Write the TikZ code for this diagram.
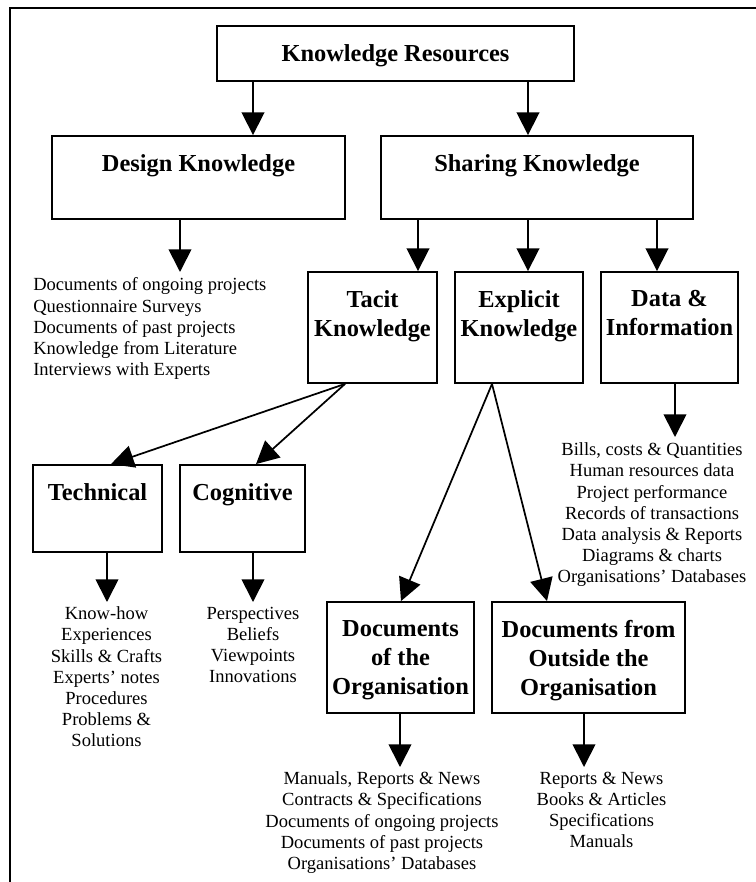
\documentclass[tikz,border=0pt]{standalone}
\usepackage{fontspec}
\setmainfont{Liberation Serif}
\usetikzlibrary{arrows.meta,calc}
\tikzset{
  box/.style={draw, line width=1.4pt, inner sep=0pt},
  head/.style={font=\fontsize{18.3}{21.75}\selectfont\bfseries, align=center, inner sep=0pt, anchor=north},
  items/.style={font=\fontsize{13.9}{15.9}\selectfont, inner sep=0pt, anchor=north, align=center},
  arr/.style={line width=1.3pt, -{Triangle[length=17pt,width=17pt]}},
  frame/.style={line width=1pt}
}
\begin{document}
\begin{tikzpicture}[x=0.75pt, y=-0.75pt]
\useasboundingbox (0,0) rectangle (756,882);
% frame lines
\draw[frame] (756,8) -- (10,8) -- (10,882);

% boxes
\node[box, minimum width=267.75pt, minimum height=41.25pt] (kr)   at (395.5,53.5) {};
\node[box, minimum width=219.75pt, minimum height=62.25pt] (dk)   at (198.5,177.5) {};
\node[box, minimum width=234pt,    minimum height=62.25pt] (sk)   at (537,177.5) {};
\node[box, minimum width=96.75pt,  minimum height=83.25pt] (tac)  at (372.5,327.5) {};
\node[box, minimum width=96pt,     minimum height=83.25pt] (exk)  at (519,327.5) {};
\node[box, minimum width=102.75pt, minimum height=83.25pt] (dat)  at (669.5,327.5) {};
\node[box, minimum width=96.75pt,  minimum height=65.25pt] (tech) at (97.5,508.5) {};
\node[box, minimum width=93.75pt,  minimum height=65.25pt] (cog)  at (242.5,508.5) {};
\node[box, minimum width=110.25pt, minimum height=83.25pt] (org)  at (400.5,657.5) {};
\node[box, minimum width=144.75pt, minimum height=83.25pt] (out)  at (588.5,657.5) {};

% box titles
\node[head] (krt)   at ($(kr.north)+(0,19)$)   {Knowledge Resources};
\node[head] (dkt)   at ($(dk.north)+(0,19)$)   {Design Knowledge};
\node[head] (skt)   at ($(sk.north)+(0,19)$)   {Sharing Knowledge};
\node[head] (tact)  at ($(tac.north)+(0,19)$)  {Tacit\\Knowledge};
\node[head] (exkt)  at ($(exk.north)+(0,19)$)  {Explicit\\Knowledge};
\node[head] (datt)  at ($(dat.north)+(0,19)$)  {Data \&\\Information};
\node[head] (techt) at ($(tech.north)+(0,19)$) {Technical};
\node[head] (cogt)  at ($(cog.north)+(0,19)$)  {Cognitive};
\node[head] (orgt)  at ($(org.north)+(0,19)$)  {Documents\\of the\\Organisation};
\node[head] (outt)  at ($(out.north)+(0,19)$)  {Documents from\\Outside the\\Organisation};

% item lists
\node[items, anchor=north west, align=left] (dkl) at (33,277.5)
  {Documents of ongoing projects\\Questionnaire Surveys\\Documents of past projects\\Knowledge from Literature\\Interviews with Experts};
\node[items] (datl) at (652,442.5)
  {Bills, costs \& Quantities\\Human resources data\\Project performance\\Records of transactions\\Data analysis \& Reports\\Diagrams \& charts\\Organisations’ Databases};
\node[items] (techl) at (106.5,606.5)
  {Know-how\\Experiences\\Skills \& Crafts\\Experts’ notes\\Procedures\\Problems \&\\Solutions};
\node[items] (cogl) at (253,606.5)
  {Perspectives\\Beliefs\\Viewpoints\\Innovations};
\node[items] (orgl) at (382,771.5)
  {Manuals, Reports \& News\\Contracts \& Specifications\\Documents of ongoing projects\\Documents of past projects\\Organisations’ Databases};
\node[items] (outl) at (601.5,771.5)
  {Reports \& News\\Books \& Articles\\Specifications\\Manuals};

% arrow ends above the lists
\coordinate (dkend)   at (180,272);
\coordinate (datend)  at (675,437);
\coordinate (techend) at (107,602);
\coordinate (cogend)  at (253,602);
\coordinate (orgend)  at (400,767);
\coordinate (outend)  at (584,767);

% connectors
\draw[arr] ($(kr.south)+(-142.5,0)$) -- ($(dk.north)+(54.5,0)$);
\draw[arr] ($(kr.south)+(132.5,0)$)  -- ($(sk.north)+(-9,0)$);
\draw[arr] (dk.south -| dkend) -- (dkend);
\draw[arr] ($(sk.south)+(-119,0)$) -- ($(tac.north)+(45.5,0)$);
\draw[arr] ($(sk.south)+(-9,0)$)   -- ($(exk.north)+(9,0)$);
\draw[arr] ($(sk.south)+(120,0)$)  -- ($(dat.north)+(-12.5,0)$);
\draw[arr] ($(tac.south)+(-27.5,0)$) -- ($(tech.north)+(13.5,0)$);
\draw[arr] ($(tac.south)+(-27.5,0)$) -- ($(cog.north)+(13.5,0)$);
\draw[arr] ($(exk.south)+(-27,0)$) -- ($(org.north)+(0.5,0)$);
\draw[arr] ($(exk.south)+(-27,0)$) -- ($(out.north)+(-41.5,0)$);
\draw[arr] (dat.south -| datend)   -- (datend);
\draw[arr] (tech.south -| techend) -- (techend);
\draw[arr] (cog.south -| cogend)   -- (cogend);
\draw[arr] (org.south -| orgend)   -- (orgend);
\draw[arr] (out.south -| outend)   -- (outend);
\end{tikzpicture}
\end{document}
